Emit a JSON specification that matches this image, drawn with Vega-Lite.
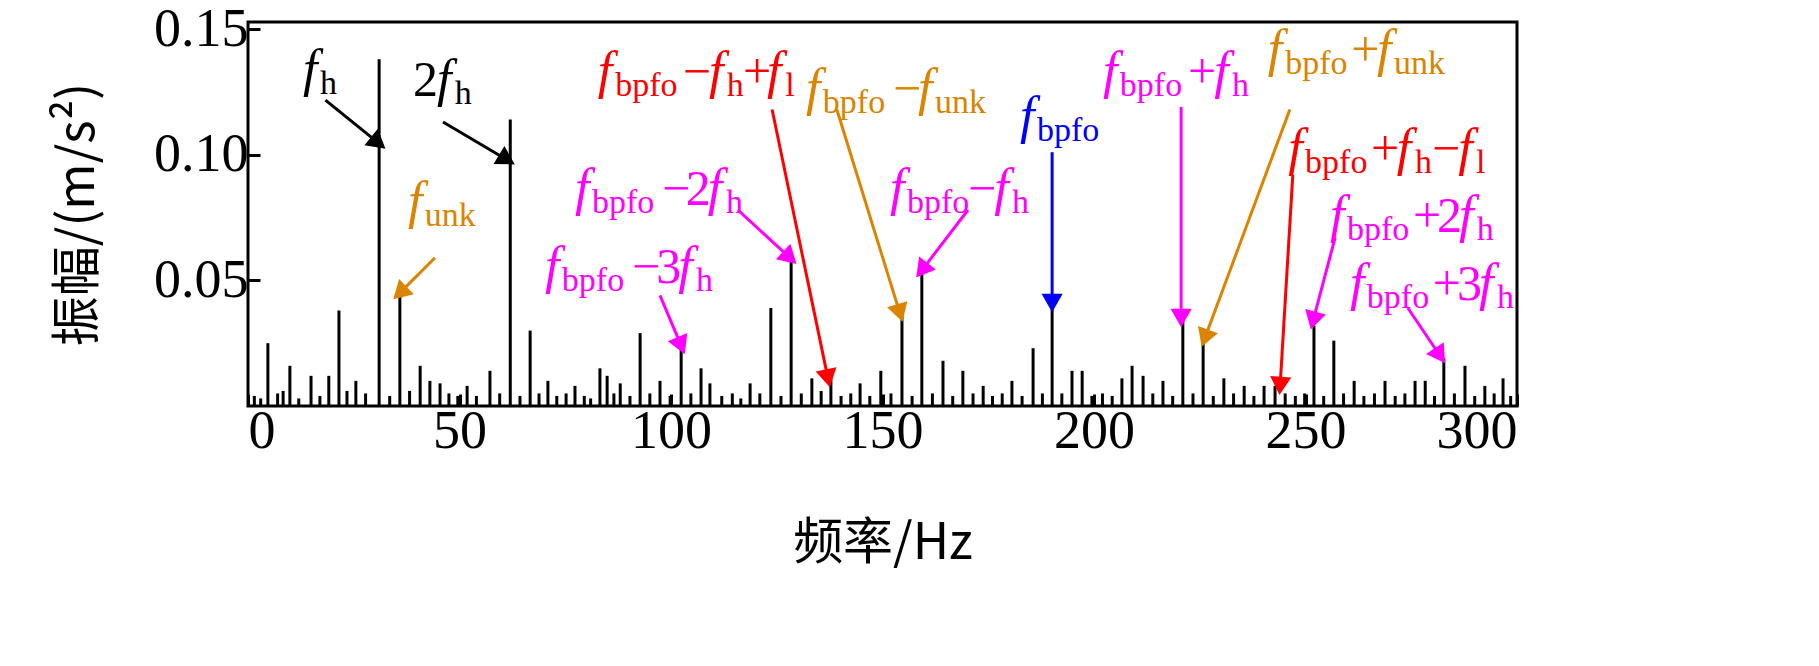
{
  "$schema": "https://vega.github.io/schema/vega-lite/v6.json",
  "width": 1269,
  "height": 384,
  "autosize": "none",
  "padding": {"left": 248, "top": 22, "right": 302, "bottom": 260},
  "background": "white",
  "config": {
    "view": {"stroke": "black", "strokeWidth": 3},
    "font": "Liberation Serif",
    "axis": {"labelFont": "Liberation Serif", "labelFontSize": 54, "labelColor": "black", "tickColor": "black", "tickWidth": 3, "tickSize": -12, "domain": false, "grid": false, "titleFontSize": 50, "titleFont": "Noto Sans CJK SC", "titleFontWeight": "normal", "titleColor": "black"}
  },
  "datasets": {
    "spikes": [
      {"hz": 4.7, "amp": 0.025}, {"hz": 9.9, "amp": 0.016}, {"hz": 14.9, "amp": 0.012}, {"hz": 19.1, "amp": 0.012},
      {"hz": 21.5, "amp": 0.038}, {"hz": 25.5, "amp": 0.01}, {"hz": 31.0, "amp": 0.138}, {"hz": 35.9, "amp": 0.045},
      {"hz": 40.7, "amp": 0.016}, {"hz": 43.0, "amp": 0.01}, {"hz": 45.4, "amp": 0.009}, {"hz": 51.8, "amp": 0.008},
      {"hz": 57.2, "amp": 0.014}, {"hz": 62.0, "amp": 0.114}, {"hz": 66.7, "amp": 0.03}, {"hz": 70.9, "amp": 0.01},
      {"hz": 77.3, "amp": 0.008}, {"hz": 83.2, "amp": 0.015}, {"hz": 84.9, "amp": 0.012}, {"hz": 88.0, "amp": 0.009},
      {"hz": 92.7, "amp": 0.029}, {"hz": 97.4, "amp": 0.01}, {"hz": 102.4, "amp": 0.023}, {"hz": 107.1, "amp": 0.015},
      {"hz": 109.2, "amp": 0.009}, {"hz": 118.7, "amp": 0.009}, {"hz": 123.6, "amp": 0.039}, {"hz": 128.4, "amp": 0.058},
      {"hz": 133.3, "amp": 0.011}, {"hz": 137.8, "amp": 0.011}, {"hz": 144.7, "amp": 0.009}, {"hz": 149.6, "amp": 0.014},
      {"hz": 154.6, "amp": 0.037}, {"hz": 159.3, "amp": 0.053}, {"hz": 164.3, "amp": 0.018}, {"hz": 169.0, "amp": 0.014},
      {"hz": 173.8, "amp": 0.008}, {"hz": 180.6, "amp": 0.01}, {"hz": 185.6, "amp": 0.023}, {"hz": 190.1, "amp": 0.041},
      {"hz": 194.8, "amp": 0.014}, {"hz": 197.2, "amp": 0.014}, {"hz": 206.6, "amp": 0.011}, {"hz": 209.0, "amp": 0.016},
      {"hz": 211.6, "amp": 0.012}, {"hz": 216.3, "amp": 0.01}, {"hz": 221.0, "amp": 0.037}, {"hz": 225.8, "amp": 0.026},
      {"hz": 230.7, "amp": 0.011}, {"hz": 235.5, "amp": 0.008}, {"hz": 240.2, "amp": 0.008}, {"hz": 242.8, "amp": 0.008},
      {"hz": 252.0, "amp": 0.032}, {"hz": 256.7, "amp": 0.026}, {"hz": 261.5, "amp": 0.01}, {"hz": 268.8, "amp": 0.01},
      {"hz": 275.9, "amp": 0.01}, {"hz": 278.3, "amp": 0.01}, {"hz": 282.7, "amp": 0.019}, {"hz": 287.7, "amp": 0.016},
      {"hz": 292.4, "amp": 0.008}, {"hz": 296.7, "amp": 0.011},
      {"hz": 1.5, "amp": 0.004}, {"hz": 3.0, "amp": 0.003}, {"hz": 7.0, "amp": 0.005}, {"hz": 8.3, "amp": 0.006},
      {"hz": 12.0, "amp": 0.003}, {"hz": 17.0, "amp": 0.004}, {"hz": 23.4, "amp": 0.006}, {"hz": 27.8, "amp": 0.005},
      {"hz": 33.5, "amp": 0.004}, {"hz": 38.2, "amp": 0.006}, {"hz": 47.5, "amp": 0.005}, {"hz": 49.6, "amp": 0.004},
      {"hz": 54.0, "amp": 0.004}, {"hz": 59.5, "amp": 0.005}, {"hz": 64.3, "amp": 0.004}, {"hz": 68.8, "amp": 0.005},
      {"hz": 73.0, "amp": 0.004}, {"hz": 75.2, "amp": 0.005}, {"hz": 79.5, "amp": 0.004}, {"hz": 81.0, "amp": 0.003},
      {"hz": 86.5, "amp": 0.005}, {"hz": 90.3, "amp": 0.004}, {"hz": 95.0, "amp": 0.005}, {"hz": 99.8, "amp": 0.004},
      {"hz": 104.7, "amp": 0.005}, {"hz": 112.0, "amp": 0.004}, {"hz": 114.5, "amp": 0.005}, {"hz": 116.5, "amp": 0.003},
      {"hz": 121.0, "amp": 0.005}, {"hz": 126.0, "amp": 0.004}, {"hz": 130.8, "amp": 0.005}, {"hz": 135.5, "amp": 0.006},
      {"hz": 140.2, "amp": 0.004}, {"hz": 142.5, "amp": 0.005}, {"hz": 147.0, "amp": 0.004}, {"hz": 152.0, "amp": 0.005},
      {"hz": 157.0, "amp": 0.004}, {"hz": 161.8, "amp": 0.005}, {"hz": 166.6, "amp": 0.004}, {"hz": 171.4, "amp": 0.005},
      {"hz": 176.0, "amp": 0.004}, {"hz": 178.3, "amp": 0.005}, {"hz": 183.0, "amp": 0.004}, {"hz": 187.8, "amp": 0.005},
      {"hz": 192.4, "amp": 0.005}, {"hz": 199.5, "amp": 0.004}, {"hz": 202.0, "amp": 0.005}, {"hz": 204.3, "amp": 0.004},
      {"hz": 213.9, "amp": 0.005}, {"hz": 218.6, "amp": 0.004}, {"hz": 223.4, "amp": 0.005}, {"hz": 228.2, "amp": 0.004},
      {"hz": 233.0, "amp": 0.005}, {"hz": 237.8, "amp": 0.004}, {"hz": 245.2, "amp": 0.005}, {"hz": 247.6, "amp": 0.004},
      {"hz": 249.8, "amp": 0.005}, {"hz": 254.3, "amp": 0.004}, {"hz": 259.0, "amp": 0.005}, {"hz": 263.8, "amp": 0.004},
      {"hz": 266.3, "amp": 0.005}, {"hz": 271.2, "amp": 0.004}, {"hz": 273.5, "amp": 0.005}, {"hz": 280.5, "amp": 0.004},
      {"hz": 285.2, "amp": 0.005}, {"hz": 290.0, "amp": 0.004}, {"hz": 294.6, "amp": 0.005}, {"hz": 298.5, "amp": 0.004}
    ],
    "arrows": [
      {"g": "black", "x": 18.3, "y": 0.1217, "x2": 30.8, "y2": 0.1047, "angle": 129},
      {"g": "black", "x": 46.1, "y": 0.113, "x2": 61.2, "y2": 0.098, "angle": 121},
      {"g": "orange", "x": 44.2, "y": 0.059, "x2": 35.9, "y2": 0.045, "angle": -134},
      {"g": "magenta", "x": 97.4, "y": 0.044, "x2": 102.4, "y2": 0.024, "angle": 157},
      {"g": "magenta", "x": 115.8, "y": 0.078, "x2": 128.1, "y2": 0.059, "angle": 133},
      {"g": "red", "x": 123.9, "y": 0.118, "x2": 137.1, "y2": 0.011, "angle": 168},
      {"g": "orange", "x": 139.2, "y": 0.118, "x2": 154.1, "y2": 0.037, "angle": 163},
      {"g": "magenta", "x": 170.2, "y": 0.078, "x2": 159.3, "y2": 0.054, "angle": -142},
      {"g": "blue", "x": 190.1, "y": 0.101, "x2": 190.1, "y2": 0.041, "angle": 180},
      {"g": "magenta", "x": 220.6, "y": 0.119, "x2": 220.6, "y2": 0.035, "angle": 180},
      {"g": "orange", "x": 246.3, "y": 0.118, "x2": 226.2, "y2": 0.027, "angle": -160},
      {"g": "red", "x": 247.0, "y": 0.092, "x2": 244.0, "y2": 0.008, "angle": -176},
      {"g": "magenta", "x": 257.0, "y": 0.067, "x2": 251.8, "y2": 0.034, "angle": -165},
      {"g": "magenta", "x": 274.2, "y": 0.039, "x2": 281.8, "y2": 0.02, "angle": 146}
    ],
    "labels": [
      {"g": "black", "k": "i", "t": "f", "x": 13.0, "y": 0.1273}, {"g": "black", "k": "s", "t": "h", "x": 17.0, "y": 0.1242},
      {"g": "black", "k": "n", "t": "2", "x": 39.0, "y": 0.1234}, {"g": "black", "k": "i", "t": "f", "x": 44.7, "y": 0.1234}, {"g": "black", "k": "s", "t": "h", "x": 48.9, "y": 0.1202},
      {"g": "orange", "k": "i", "t": "f", "x": 37.8, "y": 0.0748}, {"g": "orange", "k": "s", "t": "unk", "x": 41.8, "y": 0.0716},
      {"g": "magenta", "k": "i", "t": "f", "x": 70.2, "y": 0.0489}, {"g": "magenta", "k": "s", "t": "bpfo", "x": 74.2, "y": 0.0458}, {"g": "magenta", "k": "n", "t": "−", "x": 90.8, "y": 0.0489}, {"g": "magenta", "k": "n", "t": "3", "x": 96.5, "y": 0.0489}, {"g": "magenta", "k": "i", "t": "f", "x": 101.7, "y": 0.0489}, {"g": "magenta", "k": "s", "t": "h", "x": 105.9, "y": 0.0458},
      {"g": "magenta", "k": "i", "t": "f", "x": 77.3, "y": 0.08}, {"g": "magenta", "k": "s", "t": "bpfo", "x": 81.3, "y": 0.0768}, {"g": "magenta", "k": "n", "t": "−", "x": 97.9, "y": 0.08}, {"g": "magenta", "k": "n", "t": "2", "x": 103.5, "y": 0.08}, {"g": "magenta", "k": "i", "t": "f", "x": 108.7, "y": 0.08}, {"g": "magenta", "k": "s", "t": "h", "x": 113.0, "y": 0.0768},
      {"g": "red", "k": "i", "t": "f", "x": 82.7, "y": 0.1265}, {"g": "red", "k": "s", "t": "bpfo", "x": 86.8, "y": 0.1234}, {"g": "red", "k": "n", "t": "−", "x": 102.8, "y": 0.1265}, {"g": "red", "k": "i", "t": "f", "x": 109.0, "y": 0.1265}, {"g": "red", "k": "s", "t": "h", "x": 113.2, "y": 0.1234}, {"g": "red", "k": "n", "t": "+", "x": 117.0, "y": 0.1265}, {"g": "red", "k": "i", "t": "f", "x": 122.7, "y": 0.1265}, {"g": "red", "k": "s", "t": "l", "x": 127.0, "y": 0.1234},
      {"g": "orange", "k": "i", "t": "f", "x": 131.9, "y": 0.1198}, {"g": "orange", "k": "s", "t": "bpfo", "x": 135.9, "y": 0.1166}, {"g": "orange", "k": "n", "t": "−", "x": 152.5, "y": 0.1198}, {"g": "orange", "k": "i", "t": "f", "x": 158.4, "y": 0.1198}, {"g": "orange", "k": "s", "t": "unk", "x": 162.4, "y": 0.1166},
      {"g": "blue", "k": "i", "t": "f", "x": 182.5, "y": 0.1086}, {"g": "blue", "k": "s", "t": "bpfo", "x": 186.5, "y": 0.1055},
      {"g": "magenta", "k": "i", "t": "f", "x": 151.8, "y": 0.08}, {"g": "magenta", "k": "s", "t": "bpfo", "x": 155.8, "y": 0.0768}, {"g": "magenta", "k": "n", "t": "−", "x": 170.2, "y": 0.08}, {"g": "magenta", "k": "i", "t": "f", "x": 176.4, "y": 0.08}, {"g": "magenta", "k": "s", "t": "h", "x": 180.6, "y": 0.0768},
      {"g": "magenta", "k": "i", "t": "f", "x": 202.1, "y": 0.1265}, {"g": "magenta", "k": "s", "t": "bpfo", "x": 206.1, "y": 0.1234}, {"g": "magenta", "k": "n", "t": "+", "x": 222.2, "y": 0.1265}, {"g": "magenta", "k": "i", "t": "f", "x": 228.4, "y": 0.1265}, {"g": "magenta", "k": "s", "t": "h", "x": 232.6, "y": 0.1234},
      {"g": "orange", "k": "i", "t": "f", "x": 241.1, "y": 0.1353}, {"g": "orange", "k": "s", "t": "bpfo", "x": 245.2, "y": 0.1321}, {"g": "orange", "k": "n", "t": "+", "x": 260.8, "y": 0.1353}, {"g": "orange", "k": "i", "t": "f", "x": 266.9, "y": 0.1353}, {"g": "orange", "k": "s", "t": "unk", "x": 270.9, "y": 0.1321},
      {"g": "red", "k": "i", "t": "f", "x": 245.9, "y": 0.0959}, {"g": "red", "k": "s", "t": "bpfo", "x": 249.9, "y": 0.0927}, {"g": "red", "k": "n", "t": "+", "x": 265.5, "y": 0.0959}, {"g": "red", "k": "i", "t": "f", "x": 271.6, "y": 0.0959}, {"g": "red", "k": "s", "t": "h", "x": 275.9, "y": 0.0927}, {"g": "red", "k": "n", "t": "−", "x": 279.9, "y": 0.0959}, {"g": "red", "k": "i", "t": "f", "x": 286.1, "y": 0.0959}, {"g": "red", "k": "s", "t": "l", "x": 290.3, "y": 0.0927},
      {"g": "magenta", "k": "i", "t": "f", "x": 255.8, "y": 0.0692}, {"g": "magenta", "k": "s", "t": "bpfo", "x": 259.8, "y": 0.0661}, {"g": "magenta", "k": "n", "t": "+", "x": 275.4, "y": 0.0692}, {"g": "magenta", "k": "n", "t": "2", "x": 281.1, "y": 0.0692}, {"g": "magenta", "k": "i", "t": "f", "x": 286.3, "y": 0.0692}, {"g": "magenta", "k": "s", "t": "h", "x": 290.5, "y": 0.0661},
      {"g": "magenta", "k": "i", "t": "f", "x": 260.5, "y": 0.0422}, {"g": "magenta", "k": "s", "t": "bpfo", "x": 264.5, "y": 0.039}, {"g": "magenta", "k": "n", "t": "+", "x": 280.1, "y": 0.0422}, {"g": "magenta", "k": "n", "t": "3", "x": 285.8, "y": 0.0422}, {"g": "magenta", "k": "i", "t": "f", "x": 291.0, "y": 0.0422}, {"g": "magenta", "k": "s", "t": "h", "x": 295.3, "y": 0.039}
    ]
  },
  "layer": [
    {
      "data": {"name": "spikes"},
      "mark": {"type": "rule", "color": "black", "strokeWidth": 3},
      "encoding": {
        "x": {"field": "hz", "type": "quantitative", "scale": {"domain": [0, 300], "nice": false},
          "axis": {"values": [0, 50, 100, 150, 200, 250, 300], "labelPadding": 10, "title": "频率/Hz", "titlePadding": 60}},
        "y": {"field": "amp", "type": "quantitative", "scale": {"domain": [0, 0.1528], "nice": false},
          "axis": {"values": [0.05, 0.1, 0.15], "format": ".2f", "labelPadding": 12, "title": "振幅/(m/s²)", "titlePadding": 50}},
        "y2": {"datum": 0}
      }
    },
    {
      "data": {"name": "arrows"},
      "mark": {"type": "rule", "strokeWidth": 3},
      "encoding": {
        "x": {"field": "x", "type": "quantitative"},
        "y": {"field": "y", "type": "quantitative"},
        "x2": {"field": "x2"},
        "y2": {"field": "y2"},
        "color": {"field": "g", "type": "nominal", "legend": null,
          "scale": {"domain": ["black", "orange", "magenta", "red", "blue"], "range": ["#000000", "#DB8400", "#FF00FF", "#FF0000", "#0000FF"]}}
      }
    },
    {
      "data": {"name": "arrows"},
      "mark": {"type": "point", "shape": "triangle-up", "filled": true, "opacity": 1, "size": 450},
      "encoding": {
        "x": {"field": "x2", "type": "quantitative"},
        "y": {"field": "y2", "type": "quantitative"},
        "angle": {"field": "angle", "type": "quantitative", "scale": null},
        "color": {"field": "g", "type": "nominal", "legend": null}
      }
    },
    {
      "data": {"name": "labels"},
      "transform": [{"filter": "datum.k == 'i'"}],
      "mark": {"type": "text", "align": "left", "baseline": "alphabetic", "fontSize": 52, "fontStyle": "italic", "font": "Liberation Serif"},
      "encoding": {
        "x": {"field": "x", "type": "quantitative"},
        "y": {"field": "y", "type": "quantitative"},
        "text": {"field": "t"},
        "color": {"field": "g", "type": "nominal", "legend": null}
      }
    },
    {
      "data": {"name": "labels"},
      "transform": [{"filter": "datum.k == 'n'"}],
      "mark": {"type": "text", "align": "left", "baseline": "alphabetic", "fontSize": 50, "font": "Liberation Serif"},
      "encoding": {
        "x": {"field": "x", "type": "quantitative"},
        "y": {"field": "y", "type": "quantitative"},
        "text": {"field": "t"},
        "color": {"field": "g", "type": "nominal", "legend": null}
      }
    },
    {
      "data": {"name": "labels"},
      "transform": [{"filter": "datum.k == 's'"}],
      "mark": {"type": "text", "align": "left", "baseline": "alphabetic", "fontSize": 34, "font": "Liberation Serif"},
      "encoding": {
        "x": {"field": "x", "type": "quantitative"},
        "y": {"field": "y", "type": "quantitative"},
        "text": {"field": "t"},
        "color": {"field": "g", "type": "nominal", "legend": null}
      }
    }
  ]
}
